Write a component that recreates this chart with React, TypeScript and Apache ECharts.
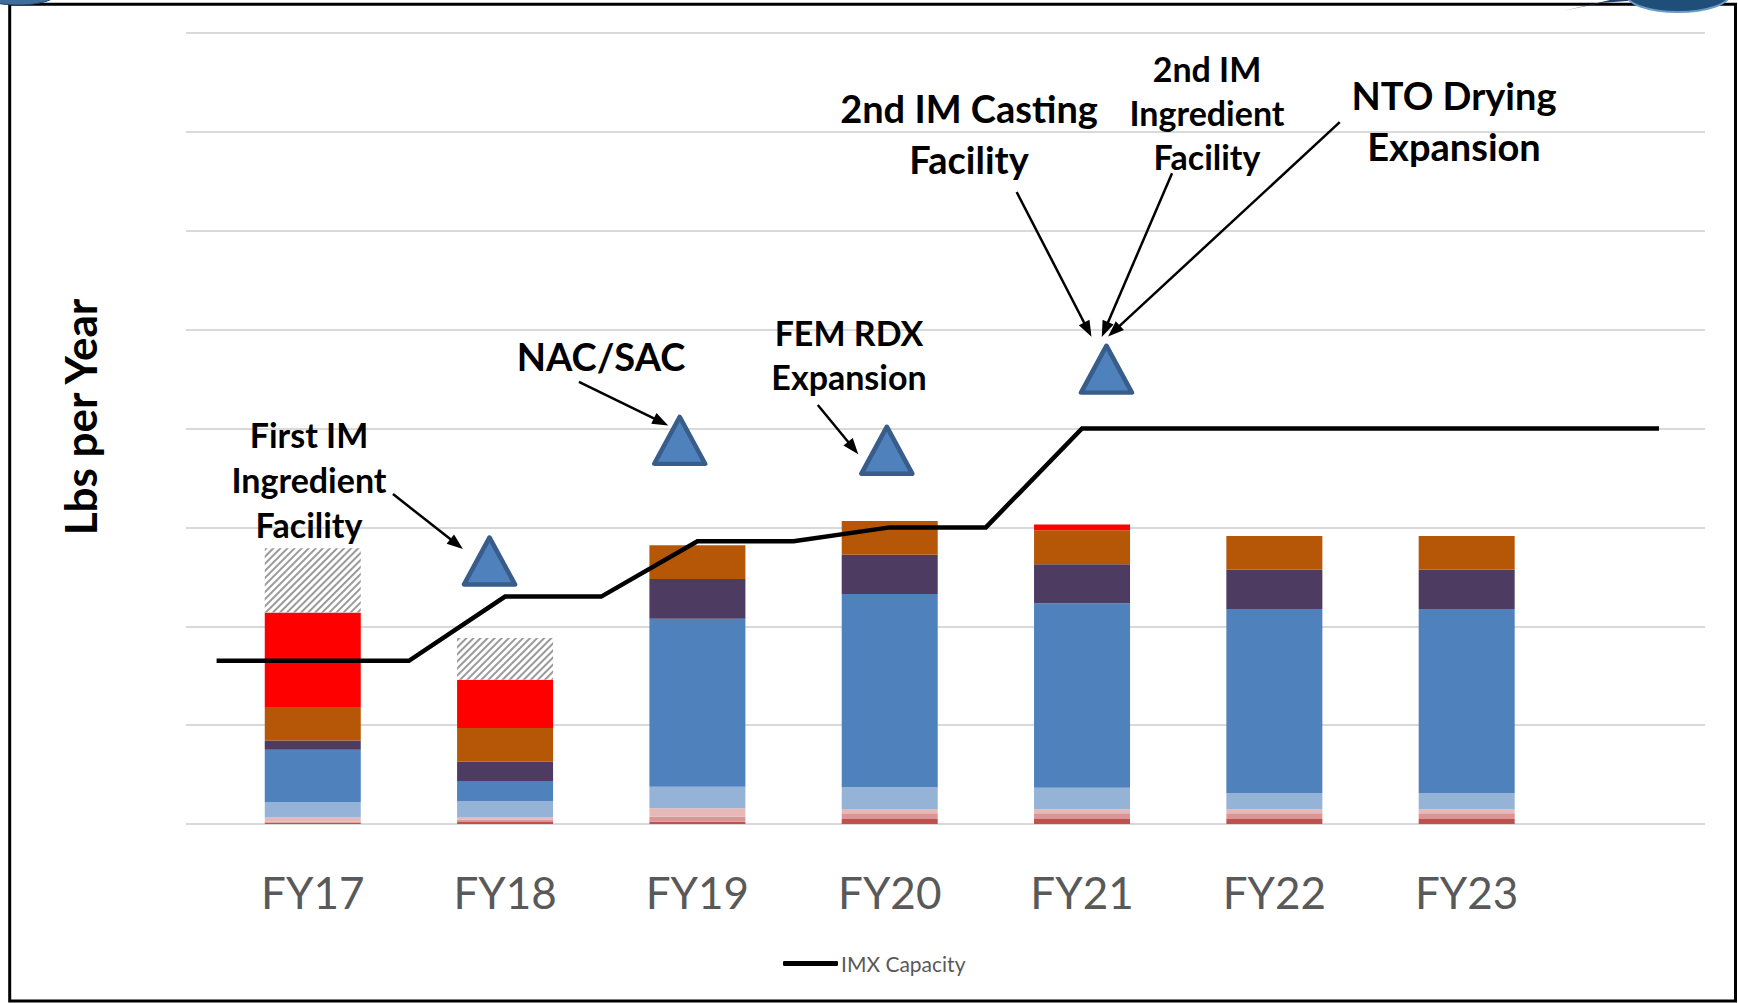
import React, { useEffect, useRef } from "react";
import * as echarts from "echarts";

// ---------- data ----------
const categories = ["FY17", "FY18", "FY19", "FY20", "FY21", "FY22", "FY23"];

const seriesNames = [
  "Program A",
  "Program B",
  "Program C",
  "Program D",
  "Program E",
  "Program F",
  "Program G",
  "Program H",
  "Program I",
];
const seriesColors = [
  "#C0504D",
  "#D99694",
  "#E6B9B8",
  "#95B3D7",
  "#4F81BD",
  "#4D3B62",
  "#B65708",
  "#FF0000",
  "#FFFFFF",
];
const progA = [0.012, 0.02, 0.023, 0.05, 0.05, 0.05, 0.05];
const progB = [0.014, 0.023, 0.051, 0.058, 0.058, 0.058, 0.058];
const progC = [0.041, 0.024, 0.085, 0.044, 0.041, 0.041, 0.041];
const progD = [0.155, 0.166, 0.218, 0.219, 0.218, 0.165, 0.165];
const progE = [0.529, 0.202, 1.699, 1.955, 1.865, 1.86, 1.86];
const progF = [0.094, 0.195, 0.401, 0.397, 0.394, 0.401, 0.401];
const progG = [0.338, 0.34, 0.343, 0.341, 0.344, 0.337, 0.337];
const progH = [0.957, 0.489, 0, 0, 0.06, 0, 0];
const progI = [0.65, 0.421, 0, 0, 0, 0, 0];
const seriesValues = [progA, progB, progC, progD, progE, progF, progG, progH, progI];

// IMX capacity, at half-year steps from FY16.5 to FY24
const capacityHalfYear = [1.65, 1.65, 1.65, 2.3, 2.3, 2.86, 2.86, 3.0, 3.0, 4.0, 4.0, 4.0, 4.0, 4.0, 4.0, 4.0];

// milestones (x in years from FY17, y in value units)
const milestoneX = [0.919, 1.908, 2.985, 4.127];
const milestoneY = [2.66, 3.88, 3.78, 4.6];

// annotation arrows [x1, y1, x2, y2]
const arrows = [
  [0.417, 3.337, 0.748, 2.831],
  [1.384, 4.472, 1.811, 4.066],
  [2.626, 4.237, 2.81, 3.803],
  [3.66, 6.392, 4.03, 4.999],
  [4.468, 6.582, 4.119, 5.001],
  [5.34, 7.098, 4.166, 4.985],
];

const annotationTexts = [
  "First IM\nIngredient\nFacility",
  "NAC/SAC",
  "FEM RDX\nExpansion",
  "2nd IM Casting\nFacility",
  "2nd IM\nIngredient\nFacility",
  "NTO Drying\nExpansion",
];

// ---------- layout ----------
const W = 1738;
const H = 1003;
const annotationLayout = [
  { x: 309, y: 479, size: 34, lh: 45 },
  { x: 601, y: 356, size: 38, lh: 46 },
  { x: 849, y: 354, size: 34, lh: 44 },
  { x: 969, y: 133.5, size: 38, lh: 51 },
  { x: 1207, y: 112, size: 34, lh: 44 },
  { x: 1454, y: 120.5, size: 38, lh: 51 },
];

const slots: string[] = [""];
categories.forEach((c) => {
  slots.push(c, "");
});
slots.push("");

function expand(values: number[]) {
  return slots.map((_, i) => {
    if (i % 2 === 1) {
      const v = values[(i - 1) / 2];
      return v === undefined ? null : v;
    }
    return null;
  });
}

const FONT = "Lato, 'Open Sans', sans-serif";

export default function App() {
  const ref = useRef<HTMLDivElement>(null);
  useEffect(() => {
    if (!ref.current) return;
    const chart = echarts.init(ref.current, undefined, { renderer: "svg" });

    const barSeries = seriesValues.map((vals, i) => {
      const isHatch = i === seriesValues.length - 1;
      return {
        name: seriesNames[i],
        type: "bar",
        stack: "total",
        xAxisIndex: 0,
        yAxisIndex: 1,
        barWidth: 96,
        z: 2,
        data: expand(vals),
        itemStyle: isHatch
          ? {
              color: "#FFFFFF",
              decal: {
                symbol: "rect",
                symbolSize: 1,
                dashArrayX: [1, 0],
                dashArrayY: [1.4, 2.6],
                rotation: -Math.PI / 4,
                color: "#9A9A9A",
              },
            }
          : { color: seriesColors[i] },
      };
    });

    const option: any = {
      animation: false,
      backgroundColor: "#FFFFFF",
      grid: [
        { left: 186, right: 33, top: 33, bottom: 179 },
        { left: 216.6, right: 79, top: 33, bottom: 179 },
      ],
      xAxis: [
        {
          type: "category",
          gridIndex: 1,
          data: slots,
          boundaryGap: false,
          axisLine: { show: false },
          axisTick: { show: false },
          splitLine: { show: false },
          axisLabel: {
            interval: 0,
            fontFamily: FONT,
            fontSize: 44,
            color: "#595959",
            margin: 46,
          },
        },
        { type: "value", gridIndex: 1, min: -0.5, max: 7, show: false },
        { type: "value", gridIndex: 0, min: 0, max: 1, show: false },
      ],
      yAxis: [
        {
          type: "value",
          gridIndex: 0,
          min: 0,
          max: 8,
          interval: 1,
          axisLine: { show: false },
          axisTick: { show: false },
          axisLabel: { show: false },
          splitLine: { show: true, lineStyle: { color: "#D9D9D9", width: 2 } },
        },
        { type: "value", gridIndex: 1, min: 0, max: 8, show: false },
      ],
      legend: {
        data: [{ name: "IMX Capacity", icon: "roundRect" }],
        left: 778,
        top: 948,
        itemWidth: 55,
        itemHeight: 5,
        itemStyle: { color: "#000000", borderWidth: 0 },
        textStyle: { fontFamily: FONT, fontSize: 21, color: "#595959", padding: [0, 0, 0, -2] },
      },
      series: [
        ...barSeries,
        {
          name: "IMX Capacity",
          type: "line",
          xAxisIndex: 0,
          yAxisIndex: 1,
          data: capacityHalfYear,
          showSymbol: false,
          symbol: "none",
          z: 5,
          lineStyle: { color: "#000000", width: 4.5, join: "miter" },
          itemStyle: { color: "#000000" },
        },
        {
          name: "Milestones",
          type: "scatter",
          xAxisIndex: 1,
          yAxisIndex: 1,
          z: 6,
          symbol: "triangle",
          symbolSize: [51, 47],
          data: milestoneX.map((x, i) => [x, milestoneY[i]]),
          itemStyle: {
            color: "#4F81BD",
            borderColor: "#385D8A",
            borderWidth: 4.5,
            borderJoin: "round",
            opacity: 1,
          },
          markLine: {
            silent: true,
            symbol: ["none", "triangle"],
            symbolSize: [12, 16],
            label: { show: false },
            lineStyle: { color: "#000000", width: 2.5, type: "solid" },
            emphasis: { disabled: true },
            data: arrows.map((a) => [
              { coord: [a[0], a[1]] },
              { coord: [a[2], a[3]] },
            ]),
          },
        },
      ],
      graphic: [
        {
          type: "rect",
          shape: { x: 9.7, y: 4.2, width: 1725.8, height: 996.8 },
          style: { fill: "none", stroke: "#000000", lineWidth: 3 },
          z: 0,
          silent: true,
        },
        {
          type: "ellipse",
          shape: { cx: 18, cy: -6, rx: 38, ry: 11 },
          style: { fill: "#3E6E99", stroke: "#1F3F66", lineWidth: 1 },
          z: 10,
        },
        {
          type: "polygon",
          shape: { points: [[1563, 11], [1600, 3], [1640, 0], [1610, 0]] },
          style: { fill: "#1F3F66" },
          z: 10,
        },
        {
          type: "ellipse",
          shape: { cx: 1678, cy: -6, rx: 52, ry: 18 },
          style: { fill: "#1F4E79", stroke: "#6A9AC6", lineWidth: 2 },
          z: 10,
        },
        {
          type: "text",
          x: 80,
          y: 417,
          rotation: Math.PI / 2,
          style: {
            text: "Lbs per Year",
            font: `bold 44px ${FONT}`,
            fill: "#000000",
            textAlign: "center",
            textVerticalAlign: "middle",
          },
          z: 10,
        },
        ...annotationTexts.map((t, i) => ({
          type: "text",
          x: annotationLayout[i].x,
          y: annotationLayout[i].y,
          style: {
            text: t,
            font: `bold ${annotationLayout[i].size}px ${FONT}`,
            lineHeight: annotationLayout[i].lh,
            fill: "#000000",
            textAlign: "center",
            textVerticalAlign: "middle",
          },
          z: 10,
        })),
      ],
    };

    chart.setOption(option);
    return () => chart.dispose();
  }, []);

  return (
    <div
      ref={ref}
      style={{ position: "absolute", left: 0, top: 0, width: W, height: H }}
    />
  );
}
